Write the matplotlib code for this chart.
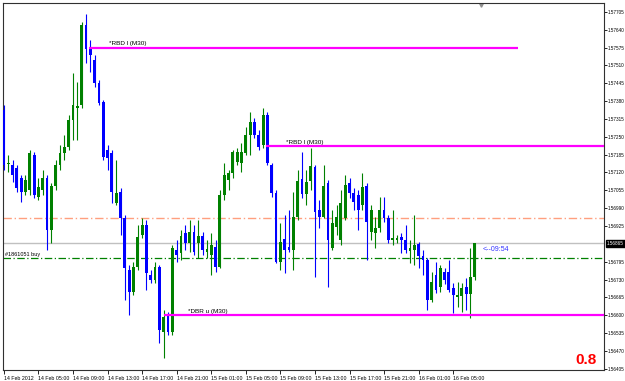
import numpy as np
import matplotlib.pyplot as plt
from matplotlib.transforms import blended_transform_factory

# EURUSD-style M30 candles, 14 Feb 2012 01:00 onwards
opens = [1.57348, 1.57151, 1.57147, 1.57136, 1.57100, 1.57049, 1.57056, 1.57184, 1.57031, 1.57056,
         1.57100, 1.56911, 1.57071, 1.57147, 1.57191, 1.57213, 1.57311, 1.57355, 1.57366, 1.57657,
         1.57573, 1.57530, 1.57446, 1.57377, 1.57202, 1.57191, 1.57009, 1.57049, 1.56954, 1.56765,
         1.56685, 1.56776, 1.56893, 1.56929, 1.56747, 1.56729, 1.56776, 1.56540, 1.56601, 1.56540,
         1.56838, 1.56827, 1.56900, 1.56863, 1.56904, 1.56863, 1.56889, 1.56831, 1.56820, 1.56849,
         1.56776, 1.57038, 1.57093, 1.57118, 1.57158, 1.57155, 1.57191, 1.57257, 1.57304, 1.57257,
         1.57220, 1.57329, 1.57147, 1.57045, 1.56794, 1.56878, 1.56849, 1.56838, 1.56958, 1.57096,
         1.57042, 1.57089, 1.57140, 1.56984, 1.56958, 1.57082, 1.56845, 1.56922, 1.56874, 1.56954,
         1.57082, 1.57045, 1.57038, 1.57002, 1.57071, 1.56904, 1.56900, 1.56918, 1.56984, 1.56954,
         1.56874, 1.56874, 1.56885, 1.56874, 1.56834, 1.56838, 1.56860, 1.56816, 1.56802, 1.56656,
         1.56747, 1.56703, 1.56758, 1.56758, 1.56700, 1.56667, 1.56671, 1.56703, 1.56678, 1.56740]
highs = [1.57366, 1.57184, 1.57166, 1.57147, 1.57111, 1.57111, 1.57202, 1.57195, 1.57100, 1.57129,
         1.57111, 1.57082, 1.57166, 1.57220, 1.57257, 1.57329, 1.57482, 1.57450, 1.57668, 1.57697,
         1.57602, 1.57548, 1.57457, 1.57384, 1.57220, 1.57202, 1.57166, 1.57064, 1.56965, 1.56783,
         1.56794, 1.56929, 1.56954, 1.56947, 1.56765, 1.56794, 1.56783, 1.56620, 1.56612, 1.56856,
         1.56874, 1.56911, 1.56929, 1.56947, 1.56929, 1.56947, 1.56904, 1.56874, 1.56900, 1.56874,
         1.57056, 1.57155, 1.57129, 1.57202, 1.57209, 1.57227, 1.57286, 1.57340, 1.57318, 1.57275,
         1.57355, 1.57340, 1.57155, 1.57056, 1.56936, 1.56965, 1.56984, 1.57049, 1.57129, 1.57195,
         1.57129, 1.57209, 1.57147, 1.57020, 1.57147, 1.57093, 1.56984, 1.57002, 1.57056, 1.57111,
         1.57100, 1.57064, 1.57056, 1.57118, 1.57082, 1.57002, 1.56958, 1.57031, 1.57031, 1.56965,
         1.56984, 1.56893, 1.56900, 1.56929, 1.56874, 1.56965, 1.56867, 1.56838, 1.56809, 1.56758,
         1.56794, 1.56783, 1.56772, 1.56802, 1.56718, 1.56722, 1.56718, 1.56736, 1.56845, 1.56862]
lows = [1.57129, 1.57122, 1.57086, 1.57049, 1.57013, 1.57038, 1.57038, 1.57027, 1.57020, 1.57038,
        1.56838, 1.56863, 1.57056, 1.57129, 1.57166, 1.57202, 1.57238, 1.57238, 1.57355, 1.57519,
        1.57486, 1.57431, 1.57366, 1.57166, 1.57129, 1.57009, 1.57002, 1.56893, 1.56656, 1.56601,
        1.56674, 1.56765, 1.56882, 1.56692, 1.56718, 1.56718, 1.56499, 1.56445, 1.56529, 1.56529,
        1.56794, 1.56802, 1.56838, 1.56831, 1.56820, 1.56809, 1.56820, 1.56809, 1.56747, 1.56758,
        1.56772, 1.57020, 1.57056, 1.57100, 1.57147, 1.57122, 1.57184, 1.57184, 1.57246, 1.57202,
        1.57209, 1.57147, 1.57031, 1.56791, 1.56765, 1.56754, 1.56831, 1.56765, 1.56947, 1.57027,
        1.57002, 1.57056, 1.56740, 1.56918, 1.56954, 1.56703, 1.56838, 1.56893, 1.56856, 1.56947,
        1.57027, 1.56984, 1.56911, 1.56984, 1.56802, 1.56874, 1.56845, 1.56904, 1.56940, 1.56863,
        1.56856, 1.56863, 1.56827, 1.56827, 1.56791, 1.56783, 1.56772, 1.56747, 1.56620, 1.56649,
        1.56681, 1.56685, 1.56714, 1.56685, 1.56609, 1.56631, 1.56612, 1.56620, 1.56590, 1.56729]
closes = [1.57147, 1.57155, 1.57111, 1.57064, 1.57049, 1.57093, 1.57191, 1.57038, 1.57067, 1.57100,
          1.56911, 1.57071, 1.57147, 1.57191, 1.57213, 1.57311, 1.57366, 1.57362, 1.57657, 1.57570,
          1.57548, 1.57446, 1.57373, 1.57177, 1.57173, 1.57049, 1.57045, 1.56954, 1.56772, 1.56685,
          1.56776, 1.56885, 1.56929, 1.56754, 1.56729, 1.56776, 1.56547, 1.56594, 1.56540, 1.56845,
          1.56820, 1.56889, 1.56863, 1.56904, 1.56831, 1.56889, 1.56838, 1.56842, 1.56856, 1.56776,
          1.57038, 1.57111, 1.57118, 1.57195, 1.57195, 1.57195, 1.57257, 1.57304, 1.57257, 1.57213,
          1.57329, 1.57155, 1.57045, 1.56794, 1.56867, 1.56838, 1.56838, 1.56958, 1.57089, 1.57042,
          1.57086, 1.57144, 1.56976, 1.56958, 1.57071, 1.56874, 1.56936, 1.56958, 1.57009, 1.57075,
          1.57045, 1.57013, 1.56984, 1.57067, 1.56940, 1.56984, 1.56918, 1.56984, 1.56954, 1.56874,
          1.56882, 1.56882, 1.56874, 1.56838, 1.56845, 1.56856, 1.56816, 1.56802, 1.56656, 1.56722,
          1.56692, 1.56772, 1.56729, 1.56692, 1.56674, 1.56674, 1.56700, 1.56678, 1.56740, 1.56862]

time_labels = ["14 Feb 2012", "14 Feb 05:00", "14 Feb 09:00", "14 Feb 13:00", "14 Feb 17:00",
               "14 Feb 21:00", "15 Feb 01:00", "15 Feb 05:00", "15 Feb 09:00", "15 Feb 13:00",
               "15 Feb 17:00", "15 Feb 21:00", "16 Feb 01:00", "16 Feb 05:00"]
price_ticks = [1.56405, 1.56470, 1.56535, 1.56600, 1.56665, 1.56730, 1.56795, 1.56925, 1.56990,
               1.57055, 1.57120, 1.57185, 1.57250, 1.57315, 1.57380, 1.57445, 1.57510, 1.57575,
               1.57640, 1.57705]

# supply / demand zones and trade lines
zone_prices = [1.57575, 1.57217, 1.56600]
zone_labels = ["*RBD l (M30)", "*RBD l (M30)", "*DBR u (M30)"]
zone_start = [19.8, 60.6, 37.1]
zone_end = [118.9, 139.0, 139.0]
zone_text_x = [24.4, 65.2, 42.6]
sl_price = 1.56955
bid_price = 1.56862
buy_price = 1.56809

small_font = ["Liberation Sans Narrow", "Liberation Sans"]

o = np.array(opens); c = np.array(closes)
h = np.array(highs); l = np.array(lows)
idx = np.arange(len(o))
up = c >= o
cols = np.where(up, "#008000", "#0000ff")

fig = plt.figure(figsize=(6.25, 3.81), dpi=100)
ax = fig.add_axes([3 / 625, 11 / 381, 601 / 625, 367 / 381])
ax.set_xlim(-0.2, 138.9)
ax.set_ylim(1.56401, 1.57737)

ax.vlines(idx, l, h, colors=cols, linewidth=0.8, zorder=3)
body_lo = np.minimum(o, c)
body_h = np.maximum(np.abs(c - o), 0.00003)
ax.bar(idx, body_h, bottom=body_lo, width=0.65, color=cols, linewidth=0, zorder=4)

# horizontal lines
ax.axhline(bid_price, color="#c0c0c0", linewidth=1, zorder=1)
ax.axhline(sl_price, color="#ff9f7f", linewidth=1, linestyle=(0, (6, 2, 1, 2)), zorder=1)
ax.axhline(buy_price, color="#008000", linewidth=0.9, linestyle=(0, (6, 2, 1, 2)), zorder=1)
for p, lab, x0, x1, tx in zip(zone_prices, zone_labels, zone_start, zone_end, zone_text_x):
    ax.hlines(p, x0, x1, color="#ff00ff", linewidth=1.6, zorder=5)
    ax.text(tx, p + 0.00004, lab, fontsize=4.6, family="Liberation Sans", va="bottom", ha="left", zorder=6)

ax.text(0.3, buy_price + 0.00004, "#1861051 buy", fontsize=4.0, family="Liberation Sans",
        va="bottom", ha="left")
ax.text(110.8, 1.56838, "<--09:54", fontsize=5.0, family="Liberation Sans", color="#3333ff",
        va="center", ha="left")
ax.text(0.988, 0.016, "0.8", transform=ax.transAxes, fontsize=11, fontweight="bold",
        family="Liberation Sans", color="#ff0000", ha="right", va="baseline")
ax.plot([0.795], [0.995], transform=ax.transAxes, marker="v", markersize=2.5, color="#909090",
        clip_on=False)

# price box on the right
tr = blended_transform_factory(ax.transAxes, ax.transData)
ax.text(1.005, bid_price, "1.56865", transform=tr, fontsize=3.3, family=small_font,
        color="white", va="center", ha="left",
        bbox=dict(boxstyle="square,pad=0.15", facecolor="black", edgecolor="black"))

ax.yaxis.tick_right()
ax.set_yticks(price_ticks)
ax.set_yticklabels([f"{p:.5f}" for p in price_ticks], fontsize=3.3, family=small_font)
ax.tick_params(axis="y", length=2, width=0.6, pad=0.6)
ax.set_xticks(np.arange(0, 8 * len(time_labels), 8))
ax.set_xticklabels(time_labels, fontsize=3.8, family=small_font, ha="left")
ax.tick_params(axis="x", length=3, width=0.6, pad=1.5)
for s in ax.spines.values():
    s.set_color("#303030")
    s.set_linewidth(0.8)

fig.savefig("out.png", dpi=100)
